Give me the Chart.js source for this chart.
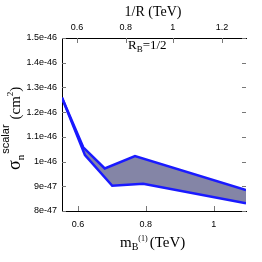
<!DOCTYPE html>
<html lang="en">
<head>
  <meta charset="UTF-8">
  <title>sigma_n scalar vs m_B1</title>
  <script src="https://cdn.jsdelivr.net/npm/chart.js"></script>
  <style>
    body { margin: 0; padding: 0; background: #ffffff; }
    #chart { display: block; }
  </style>
</head>
<body>
  <canvas id="chart" width="262" height="262"></canvas>
  <script>
    // band edges (x in TeV, y in cm^2)
    const upperX = [0.553, 0.6156, 0.679, 0.768, 1.095];
    const upperY = [1.258e-46, 1.0575e-46, 9.72e-47, 1.022e-46, 8.85e-47];
    const lowerX = [0.553, 0.6206, 0.701, 0.792, 1.095];
    const lowerY = [1.258e-46, 1.026e-46, 9.02e-47, 9.10e-47, 8.31e-47];

    const bottomTicks = [0.6, 0.8, 1.0];
    const bottomTickLabels = ['0.6', '0.8', '1'];
    // 1/R ticks sit at these m_B(1) positions on the shared axis
    const topTickPos = [0.597, 0.741, 0.879, 1.024];
    const topTickLabels = ['0.6', '0.8', '1', '1.2'];
    const yTicks = [8e-47, 9e-47, 1e-46, 1.1e-46, 1.2e-46, 1.3e-46, 1.4e-46, 1.5e-46];
    const yTickLabels = ['8e-47', '9e-47', '1e-46', '1.1e-46', '1.2e-46', '1.3e-46', '1.4e-46', '1.5e-46'];

    const tickFont = { family: 'Liberation Sans', size: 9 };
    const serif = 'Liberation Serif';

    function pts(xs, ys) {
      return xs.map((x, i) => ({ x: x, y: ys[i] }));
    }

    const innerTicks = {
      id: 'innerTicks',
      afterDraw(chart) {
        const ctx = chart.ctx;
        const a = chart.chartArea;
        const sx = chart.scales.x, st = chart.scales.x2, sy = chart.scales.y;
        ctx.save();
        ctx.strokeStyle = '#777';
        ctx.lineWidth = 1;
        ctx.beginPath();
        sx.ticks.forEach(t => {
          const px = Math.round(sx.getPixelForValue(t.value)) + 0.5;
          ctx.moveTo(px, a.bottom); ctx.lineTo(px, a.bottom - 5);
        });
        st.ticks.forEach(t => {
          const px = Math.round(st.getPixelForValue(t.value)) + 0.5;
          ctx.moveTo(px, a.top); ctx.lineTo(px, a.top + 5);
        });
        sy.ticks.forEach(t => {
          const py = Math.round(sy.getPixelForValue(t.value)) + 0.5;
          ctx.moveTo(a.left, py); ctx.lineTo(a.left + 4, py);
          ctx.moveTo(a.right - 4, py); ctx.lineTo(a.right, py);
        });
        ctx.stroke();

        // titles and label, with sub/superscripts
        ctx.fillStyle = '#000';
        ctx.textBaseline = 'alphabetic';

        // top: 1/R (TeV)
        ctx.font = '14px ' + serif;
        ctx.textAlign = 'center';
        ctx.fillText('1/R (TeV)', 153, 16);

        // R_B=1/2
        ctx.textAlign = 'left';
        let x = 128;
        ctx.font = '13px ' + serif;
        ctx.fillText('R', x, 49); x += ctx.measureText('R').width;
        ctx.font = '9px ' + serif;
        ctx.fillText('B', x, 52); x += ctx.measureText('B').width;
        ctx.font = '13px ' + serif;
        ctx.fillText('=1/2', x, 49);

        // bottom: m_B^(1) (TeV)
        x = 120;
        ctx.font = '15px ' + serif;
        ctx.fillText('m', x, 247); x += ctx.measureText('m').width;
        ctx.font = '10px ' + serif;
        ctx.fillText('B', x, 250); x += ctx.measureText('B').width;
        ctx.font = '8px ' + serif;
        ctx.fillText('(1)', x, 241); x += ctx.measureText('(1)').width + 2;
        ctx.font = '15px ' + serif;
        ctx.fillText('(TeV)', x, 247);

        // left: sigma_n^scalar (cm^2), rotated
        ctx.save();
        ctx.translate(20, 170);
        ctx.rotate(-Math.PI / 2);
        let t = 0;
        ctx.font = '18px ' + serif;
        ctx.fillText('σ', t, 0); t += ctx.measureText('σ').width;
        ctx.font = '11px ' + serif;
        ctx.fillText('n', t, 4);
        const nW = ctx.measureText('n').width;
        ctx.font = '11px Liberation Sans';
        ctx.fillText('scalar', t + nW + 1, -11);
        t += nW + 1 + ctx.measureText('scalar').width + 5;
        ctx.font = '15px ' + serif;
        ctx.fillText('(cm', t, 0); t += ctx.measureText('(cm').width;
        ctx.font = '9px ' + serif;
        ctx.fillText('2', t, -7); t += ctx.measureText('2').width;
        ctx.font = '15px ' + serif;
        ctx.fillText(')', t, 0);
        ctx.restore();

        ctx.restore();
      }
    };

    new Chart(document.getElementById('chart').getContext('2d'), {
      type: 'line',
      data: {
        datasets: [
          {
            label: 'lower',
            data: pts(lowerX, lowerY),
            borderColor: '#1a1aff',
            borderWidth: 2.5,
            pointRadius: 0,
            tension: 0,
            fill: false
          },
          {
            label: 'upper',
            data: pts(upperX, upperY),
            borderColor: '#1a1aff',
            borderWidth: 2.5,
            pointRadius: 0,
            tension: 0,
            fill: '-1',
            backgroundColor: '#8485a6'
          }
        ]
      },
      options: {
        responsive: false,
        animation: false,
        layout: { padding: { left: 0, right: 16, top: 0, bottom: 0 } },
        plugins: { legend: { display: false }, tooltip: { enabled: false } },
        scales: {
          x: {
            type: 'linear',
            position: 'bottom',
            min: 0.553,
            max: 1.095,
            afterBuildTicks: s => { s.ticks = bottomTicks.map(v => ({ value: v })); },
            afterFit: s => { s.height = 51; },
            ticks: {
              color: '#000',
              font: tickFont,
              padding: 8,
              maxRotation: 0,
              callback: (v, i) => bottomTickLabels[i]
            },
            grid: { drawOnChartArea: false, drawTicks: false },
            border: { display: true, color: '#000', width: 1 }
          },
          x2: {
            type: 'linear',
            position: 'top',
            min: 0.553,
            max: 1.095,
            afterBuildTicks: s => { s.ticks = topTickPos.map(v => ({ value: v })); },
            afterFit: s => { s.height = 38; },
            ticks: {
              color: '#000',
              font: tickFont,
              padding: 5,
              maxRotation: 0,
              callback: (v, i) => topTickLabels[i]
            },
            grid: { drawOnChartArea: false, drawTicks: false },
            border: { display: true, color: '#000', width: 1 }
          },
          y: {
            type: 'linear',
            min: 8e-47,
            max: 1.5e-46,
            afterBuildTicks: s => { s.ticks = yTicks.map(v => ({ value: v })); },
            afterFit: s => { s.width = 62; },
            ticks: {
              color: '#000',
              font: tickFont,
              padding: 5,
              callback: (v, i) => yTickLabels[i]
            },
            grid: { drawOnChartArea: false, drawTicks: false },
            border: { display: true, color: '#000', width: 1 }
          }
        }
      },
      plugins: [innerTicks]
    });
  </script>
</body>
</html>
